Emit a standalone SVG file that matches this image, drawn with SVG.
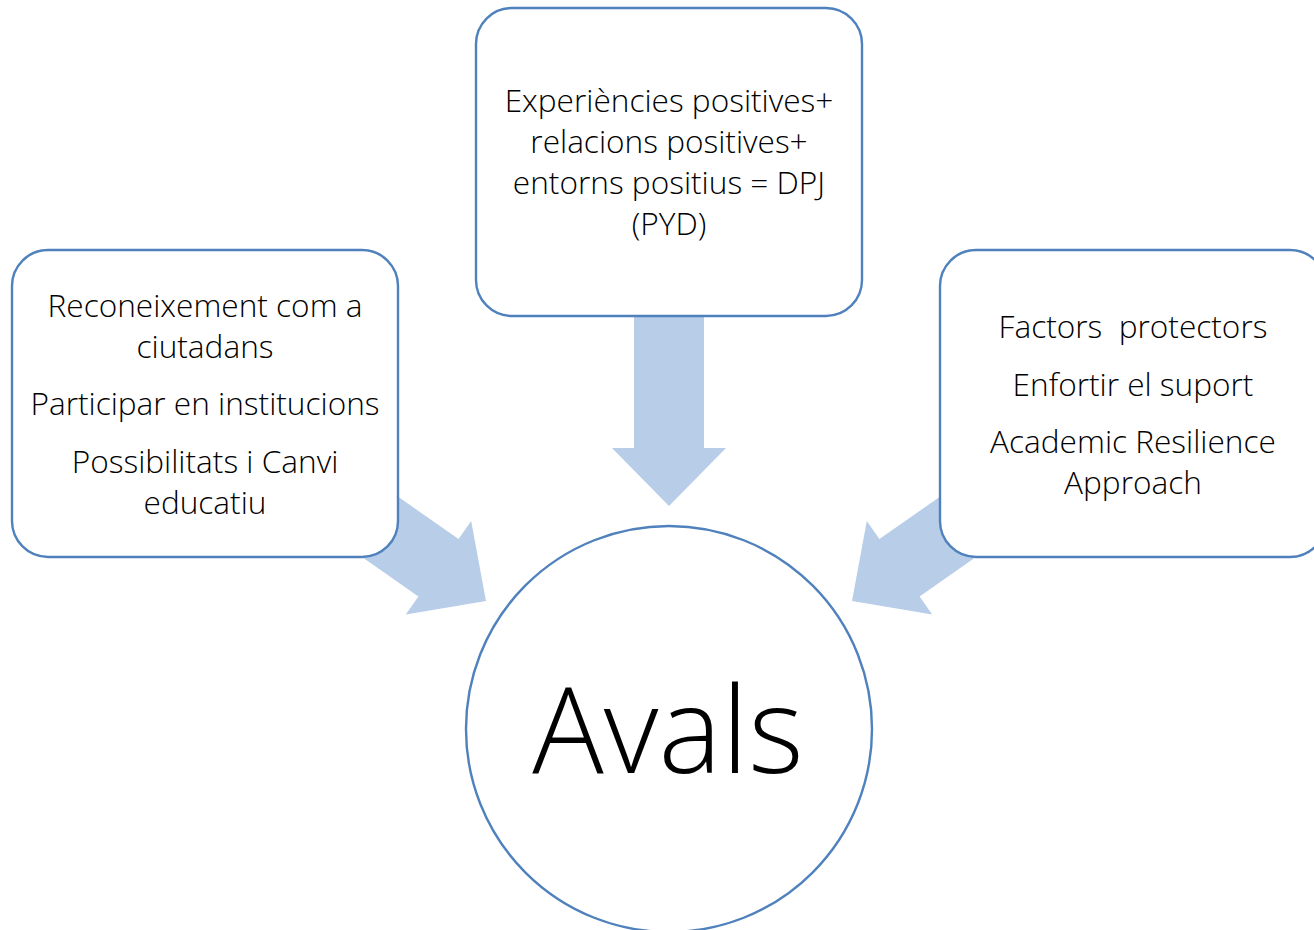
<svg xmlns="http://www.w3.org/2000/svg" width="1314" height="930" viewBox="0 0 1314 930">
  <defs>
    <style>
      .box { fill: #ffffff; stroke: #4F81BD; stroke-width: 2.4; }
      .arrow { fill: #B8CDE8; }
      .t { font-family: "Open Sans", "Segoe UI", "Liberation Sans", sans-serif; font-weight: 300; font-size: 31.6px; fill: #000000; text-anchor: middle; }
      .big { font-family: "Open Sans", "Segoe UI", "Liberation Sans", sans-serif; font-weight: 300; font-size: 119px; fill: #000000; text-anchor: middle; }
    </style>
    <polygon id="arr" points="0,0 -58,-57 -58,-35 -190,-35 -190,35 -58,35 -58,57"/>
  </defs>
  <rect width="1314" height="930" fill="#ffffff"/>
  <g id="connectors">
    <use href="#arr" class="arrow" transform="translate(669,506) rotate(90)"/>
    <use href="#arr" class="arrow" transform="translate(486,601) rotate(35)"/>
    <use href="#arr" class="arrow" transform="translate(852,601) rotate(145)"/>
  </g>
  <g id="node-left">
    <rect class="box" x="12" y="250" width="386" height="307" rx="36" ry="36"/>
    <text class="t" x="205" y="317">Reconeixement com a</text>
    <text class="t" x="205" y="358">ciutadans</text>
    <text class="t" x="205" y="415">Participar en institucions</text>
    <text class="t" x="205" y="473">Possibilitats i Canvi</text>
    <text class="t" x="205" y="514">educatiu</text>
  </g>
  <g id="node-top">
    <rect class="box" x="476" y="8" width="386" height="308" rx="36" ry="36"/>
    <text class="t" x="669" y="112">Experiències positives+</text>
    <text class="t" x="669" y="153">relacions positives+</text>
    <text class="t" x="669" y="194">entorns positius = DPJ</text>
    <text class="t" x="669" y="235">(PYD)</text>
  </g>
  <g id="node-right">
    <rect class="box" x="940" y="250" width="386" height="307" rx="36" ry="36"/>
    <text class="t" x="1133" y="338" xml:space="preserve">Factors  protectors</text>
    <text class="t" x="1133" y="396">Enfortir el suport</text>
    <text class="t" x="1133" y="453">Academic Resilience</text>
    <text class="t" x="1133" y="494">Approach</text>
  </g>
  <g id="node-center">
    <circle class="box" cx="669" cy="729" r="203"/>
    <text class="big" x="668" y="773">Avals</text>
  </g>
</svg>
